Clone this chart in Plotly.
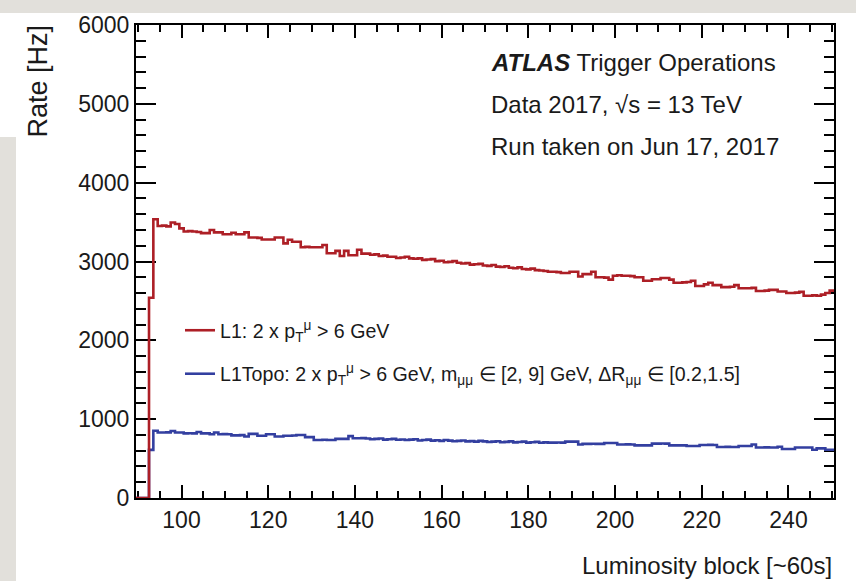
import numpy as np
import plotly.graph_objects as go

# ---------------- data ----------------
LB_FIRST = 90
LB_LAST = 250
lumi_blocks = np.arange(LB_FIRST, LB_LAST + 1)

l1_rate = [
    0, 0, 0, 2540, 3535, 3450, 3455, 3445, 3495, 3475,            # 90-99
    3420, 3380, 3385, 3380, 3375, 3360, 3360, 3400, 3370, 3370,   # 100-109
    3345, 3345, 3365, 3345, 3345, 3370, 3305, 3305, 3300, 3280,   # 110-119
    3280, 3280, 3305, 3305, 3230, 3275, 3250, 3250, 3180, 3185,   # 120-129
    3180, 3180, 3180, 3210, 3105, 3105, 3135, 3070, 3135, 3080,   # 130-139
    3080, 3150, 3100, 3100, 3085, 3090, 3070, 3075, 3060, 3060,   # 140-149
    3045, 3050, 3060, 3040, 3035, 3040, 3020, 3025, 3030, 3005,   # 150-159
    3010, 2990, 2995, 3005, 2985, 2975, 2980, 2960, 2965, 2970,   # 160-169
    2950, 2945, 2955, 2935, 2930, 2940, 2920, 2915, 2925, 2905,   # 170-179
    2900, 2910, 2890, 2885, 2880, 2870, 2870, 2865, 2855, 2855,   # 180-189
    2870, 2870, 2810, 2840, 2840, 2870, 2800, 2800, 2795, 2770,   # 190-199
    2820, 2825, 2820, 2820, 2815, 2800, 2800, 2755, 2755, 2775,   # 200-209
    2775, 2790, 2790, 2770, 2730, 2730, 2735, 2740, 2755, 2690,   # 210-219
    2690, 2710, 2730, 2700, 2700, 2675, 2675, 2680, 2700, 2660,   # 220-229
    2660, 2660, 2665, 2625, 2625, 2630, 2640, 2640, 2620, 2620,   # 230-239
    2600, 2600, 2605, 2615, 2565, 2565, 2570, 2565, 2580, 2600,   # 240-249
    2630,                                                         # 250
]

l1topo_rate = [
    0, 0, 0, 610, 854, 830, 830, 832, 850, 830,                   # 90-99
    830, 820, 822, 820, 838, 820, 820, 808, 830, 808,             # 100-109
    810, 808, 795, 795, 797, 780, 813, 813, 790, 790,             # 110-119
    808, 808, 780, 780, 790, 790, 792, 800, 800, 772,             # 120-129
    772, 736, 736, 738, 736, 736, 750, 750, 750, 785,             # 130-139
    757, 757, 760, 755, 745, 750, 755, 740, 745, 750,             # 140-149
    738, 742, 735, 740, 745, 730, 735, 740, 728, 732,             # 150-159
    725, 735, 728, 720, 725, 730, 718, 722, 715, 725,             # 160-169
    718, 710, 715, 720, 708, 712, 718, 705, 710, 715,             # 170-179
    702, 708, 712, 700, 705, 702, 702, 704, 702, 715,             # 180-189
    715, 715, 678, 686, 686, 688, 686, 686, 698, 698,             # 190-199
    698, 678, 678, 680, 678, 668, 668, 668, 668, 690,             # 200-209
    690, 692, 690, 668, 668, 668, 668, 660, 660, 660,             # 210-219
    672, 672, 674, 672, 647, 647, 648, 647, 647, 660,             # 220-229
    660, 660, 678, 640, 640, 642, 640, 640, 650, 621,             # 230-239
    621, 621, 640, 640, 640, 640, 613, 630, 630, 613,             # 240-249
    613,                                                          # 250
]

series_names = [
    "L1: 2 x p<sub>T</sub><sup>μ</sup> > 6 GeV",
    "L1Topo: 2 x p<sub>T</sub><sup>μ</sup> > 6 GeV, m<sub>μμ</sub> ∈ [2, 9] GeV, "
    "ΔR<sub>μμ</sub> ∈ [0.2,1.5]",
]
series_colors = ["#ad1f26", "#333fa0"]

x_range = [LB_FIRST - 0.5, LB_LAST + 0.5]
y_range = [0, 6000]


def hist_steps(values):
    """Bin edges / values for a step (histogram) outline."""
    v = np.asarray(values, dtype=float)
    edges = np.append(lumi_blocks - 0.5, lumi_blocks[-1] + 0.5)
    return edges, np.append(v, v[-1])


FONT = "Liberation Sans, Arial, Helvetica, sans-serif"
TXT = "#1a1a1a"

fig = go.Figure()
# draw blue first so that red sits on top (as in the reference)
for name, vals, col, grp, rank in [
    (series_names[1], l1topo_rate, series_colors[1], "b", 2),
    (series_names[0], l1_rate, series_colors[0], "a", 1),
]:
    xs, ys = hist_steps(vals)
    fig.add_trace(go.Scatter(
        x=xs, y=ys, mode="lines", line=dict(color=col, width=2.6, shape="hv"),
        name=name, legendgroup=grp, legendrank=rank, hoverinfo="skip",
        cliponaxis=False,
    ))

W, H = 856, 581
ML, MR, MT, MB = 136, 22, 25, 83
PW, PH = W - ML - MR, H - MT - MB


def px(xp):
    return (xp - ML) / PW


def py(yp):
    return (H - MB - yp) / PH


fig.update_layout(
    width=W, height=H,
    margin=dict(l=ML, r=MR, t=MT, b=MB, pad=0),
    paper_bgcolor="white", plot_bgcolor="white",
    font=dict(family=FONT, color=TXT, size=23),
    showlegend=True,
    legend=dict(
        x=px(180), y=py(311), xanchor="left", yanchor="top",
        font=dict(size=19.6, family=FONT, color=TXT),
        bgcolor="rgba(0,0,0,0)", borderwidth=0,
        traceorder="grouped", tracegroupgap=15, itemwidth=30,
    ),
)

axis_common = dict(
    showline=True, linecolor="black", linewidth=2, mirror="allticks",
    ticks="inside", tickcolor="black", tickwidth=2,
    showgrid=False, zeroline=False, layer="below traces",
    tickfont=dict(size=23, family=FONT, color=TXT),
)
fig.update_xaxes(
    range=x_range, tick0=0, dtick=20, ticklen=13,
    minor=dict(ticks="inside", ticklen=7, dtick=5, tick0=0,
               tickcolor="black", tickwidth=1.5, showgrid=False),
    **axis_common,
)
fig.update_yaxes(
    range=y_range, tick0=0, dtick=1000, ticklen=20,
    minor=dict(ticks="inside", ticklen=10, dtick=200, tick0=0,
               tickcolor="black", tickwidth=1.5, showgrid=False),
    **axis_common,
)

# photographed-slide background strips
GRAY = "#e2e0db"
fig.add_shape(type="rect", xref="paper", yref="paper", layer="below",
              x0=px(0), x1=px(W), y0=py(13), y1=py(0),
              fillcolor=GRAY, line_width=0)
fig.add_shape(type="rect", xref="paper", yref="paper", layer="below",
              x0=px(0), x1=px(16), y0=py(H), y1=py(137),
              fillcolor=GRAY, line_width=0)

# ATLAS labels
labels = [
    ("<b><i>ATLAS</i></b> Trigger Operations", 62),
    ("Data 2017, √s = 13 TeV", 104),
    ("Run taken on Jun 17, 2017", 146),
]
for txt, yc in labels:
    fig.add_annotation(text=txt, xref="paper", yref="paper",
                       x=px(489), y=py(yc), xanchor="left", yanchor="middle",
                       showarrow=False, font=dict(size=24, family=FONT, color=TXT))

# axis titles (ROOT style: aligned to the axis ends)
fig.add_annotation(text="Luminosity block [~60s]", xref="paper", yref="paper",
                   x=px(834), y=py(565), xanchor="right", yanchor="middle",
                   showarrow=False, font=dict(size=24, family=FONT, color=TXT))
fig.add_annotation(text="Rate [Hz]", xref="paper", yref="paper", textangle=-90,
                   x=px(38), y=py(23), xanchor="center", yanchor="top",
                   showarrow=False, font=dict(size=27, family=FONT, color=TXT))

fig.write_html("out.html")
